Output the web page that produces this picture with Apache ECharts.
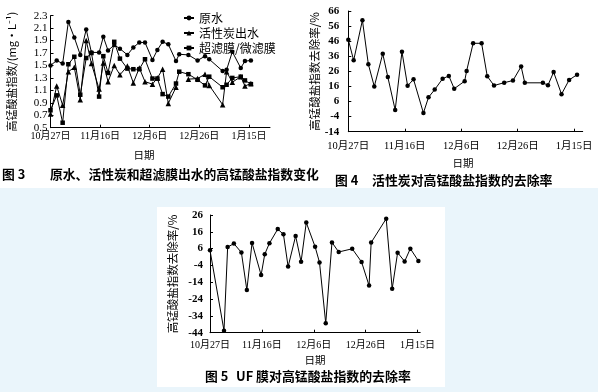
<!DOCTYPE html>
<html><head><meta charset="utf-8">
<script src="https://cdn.jsdelivr.net/npm/echarts@6/dist/echarts.min.js"></script>
<style>html,body{margin:0;padding:0;background:#eaf5fb;}#c{width:598px;height:392px;}</style>
</head><body><div id="c"></div>
<script>
// ---- shared x ticks (days after 10月27日) ----
const xTickDays = [0, 20, 40, 60, 80];
const xTickLabels = ['10月27日', '11月16日', '12月6日', '12月26日', '1月15日'];

// ---- Figure 3 ----
const fig3Days = [0, 2.5, 4.9, 7.2, 9.6, 12, 14.4, 16.5, 19.6, 21.3, 23.2, 25.7, 28, 31, 33.4, 35.8, 38.1, 41.1, 43.1, 45.2, 47.5, 50.6, 51.9, 55.6, 59.3, 62.3, 64, 69.4, 71, 73.3, 76.7, 78.4, 80.8];
const fig3Raw = [1.50, 1.58, 1.53, 2.20, 1.95, 1.67, 2.08, 1.71, 1.71, 1.96, 1.74, 1.83, 1.77, 1.67, 1.79, 1.87, 1.87, 1.59, 1.75, 1.88, 1.84, 1.57, 1.68, 1.67, 1.58, 1.65, 1.60, 1.41, 1.43, 1.72, 1.46, 1.57, 1.58];
const fig3Tri = [0.72, 1.17, 0.86, 1.40, 1.47, 0.95, 1.90, 1.53, 1.12, 1.54, 1.24, 1.50, 1.35, 1.49, 1.22, 1.46, 1.24, 1.20, 1.30, 1.44, 0.89, 1.15, null, 1.28, 1.29, 1.36, 1.18, 0.87, 1.40, 1.23, 1.32, 1.17, 1.21];
const fig3Sq = [0.78, 1.02, 0.58, 1.52, 1.64, 1.03, 1.62, 1.70, 1.00, 1.65, 1.38, 1.88, 1.61, 1.45, 1.44, 1.44, 1.60, 1.29, 1.29, 1.04, 1.00, 1.21, 1.40, 1.36, 1.27, 1.18, 1.32, 1.15, 1.19, 1.30, 1.32, 1.26, 1.20];
const fig3YTicks = [0.5, 0.7, 0.9, 1.1, 1.3, 1.5, 1.7, 1.9, 2.1, 2.3];
const fig3Names = ['原水', '活性炭出水', '超滤膜/微滤膜'];

// ---- Figure 4 ----
const fig4Days = [0, 1.9, 5, 7.1, 9.2, 12.2, 14, 16.6, 19, 21, 23.1, 26.6, 28.4, 30.6, 33.4, 35.6, 37.5, 41.2, 41.9, 44.2, 47.2, 49.2, 51.6, 55.2, 58.3, 61.2, 62.5, 68.9, 70.7, 72.7, 75.5, 78.2, 81];
const fig4Rate = [47, 33.3, 59.9, 30.7, 16, 37.7, 22.2, 0.4, 39, 16.4, 20.7, -1.6, 8.8, 13.9, 21.1, 23, 14.5, 19.5, 26.3, 44.6, 44.6, 22.8, 16.6, 18.5, 19.9, 29.2, 18.4, 18.4, 16.8, 25.5, 10.9, 20.3, 23.8];
const fig4YTicks = [-14, -4, 6, 16, 26, 36, 46, 56, 66];

// ---- Figure 5 ----
const fig5Days = [0, 5.4, 6.8, 9.2, 12.1, 14.2, 16.2, 19.7, 21.1, 22.9, 26.1, 28.3, 30.1, 33, 35.1, 37.1, 40.5, 42.2, 44.6, 47, 49.6, 54.8, 58.4, 61.3, 62.1, 67.9, 70.2, 72.3, 75, 77.2, 80.3];
const fig5Rate = [5, -42.8, 6.9, 9, 3.7, -18.6, 9.4, -9.7, 2.7, 9.2, 17.6, 14.5, -4.7, 13.5, -1.8, 21.5, 7.1, -2.2, -38.4, 9.7, 4.0, 5.9, -1.9, -16, 9.6, 23.8, -17.9, 3.6, -1.6, 6, -1.3];
const fig5YTicks = [-44, -34, -24, -14, -4, 6, 16, 26];

const pairs = (xs, ys) => xs.map((x, i) => [x, ys[i]]);
const SERIF = "'Liberation Serif', 'Noto Sans CJK SC', serif";
const CJK = "'Noto Sans CJK SC', sans-serif";

function xAxisCfg(grid, max, margin, fs) {
  return {
    type: 'value', gridIndex: grid, min: 0, max: max,
    axisLine: { show: true, onZero: false, lineStyle: { color: '#000', width: 1 } },
    axisTick: { show: true, inside: true, length: 3, customValues: xTickDays, lineStyle: { color: '#000' } },
    axisLabel: { customValues: xTickDays, margin: margin, fontSize: fs, color: '#000', fontFamily: SERIF,
      formatter: v => xTickLabels[xTickDays.indexOf(v)] || '' },
    splitLine: { show: false }
  };
}
function yAxisCfg(grid, min, max, ticks, fmt, name, gap, nameFs, bold, margin) {
  return {
    type: 'value', gridIndex: grid, min: min, max: max,
    axisLine: { show: true, onZero: false, lineStyle: { color: '#000', width: 1 } },
    axisTick: { show: true, inside: true, length: 3, customValues: ticks, lineStyle: { color: '#000' } },
    axisLabel: { customValues: ticks, margin: margin, fontSize: 11, color: '#000', fontFamily: SERIF,
      fontWeight: bold ? 'bold' : 'normal', formatter: fmt },
    splitLine: { show: false },
    name: name, nameLocation: 'middle', nameRotate: 90, nameGap: gap,
    nameTextStyle: { fontSize: nameFs, color: '#000', fontFamily: CJK }
  };
}
function lineSeries(name, xi, data, symbol, size) {
  return {
    name: name, type: 'line', xAxisIndex: xi, yAxisIndex: xi, data: data,
    symbol: symbol, symbolSize: size, showSymbol: true, connectNulls: false,
    lineStyle: { color: '#000', width: 1 }, itemStyle: { color: '#000' },
    animation: false, silent: true
  };
}

const chart = echarts.init(document.getElementById('c'), null, { renderer: 'canvas' });
chart.setOption({
  backgroundColor: '#eaf5fb',
  animation: false,
  grid: [
    { left: 50.5, top: 15.7, width: 219.5, height: 112 },
    { left: 348.3, top: 11, width: 234.4, height: 120.7 },
    { left: 210, top: 215, width: 210.2, height: 117.7 }
  ],
  xAxis: [
    xAxisCfg(0, 88.5, 4, 10),
    xAxisCfg(1, 83, 9, 10.5),
    xAxisCfg(2, 81, 8, 10)
  ],
  yAxis: [
    yAxisCfg(0, 0.5, 2.3, fig3YTicks, v => v.toFixed(1), '高锰酸盐指数/(mg·L⁻¹)', 33, 11, false, 3),
    yAxisCfg(1, -14, 66, fig4YTicks, v => String(v), '高锰酸盐指数去除率/%', 26, 11.5, true, 9),
    yAxisCfg(2, -44, 26, fig5YTicks, v => String(v), '高锰酸盐指数去除率/%', 32, 11.5, true, 7)
  ],
  legend: {
    data: fig3Names, orient: 'vertical', left: 178, top: 7, itemWidth: 10, itemHeight: 6, itemGap: 3,
    textStyle: { fontSize: 12, color: '#000', fontFamily: CJK, lineHeight: 12 }
  },
  series: [
    lineSeries(fig3Names[0], 0, pairs(fig3Days, fig3Raw), 'circle', 4.5),
    lineSeries(fig3Names[1], 0, pairs(fig3Days, fig3Tri), 'triangle', 5.5),
    lineSeries(fig3Names[2], 0, pairs(fig3Days, fig3Sq), 'rect', 4.5),
    lineSeries('图4', 1, pairs(fig4Days, fig4Rate), 'circle', 4.5),
    lineSeries('图5', 2, pairs(fig5Days, fig5Rate), 'circle', 4.5)
  ],
  graphic: [
    { type: 'rect', z: -100, shape: { x: 0, y: 0, width: 598, height: 188 }, style: { fill: '#fff' } },
    { type: 'rect', z: -100, shape: { x: 157, y: 207, width: 288, height: 180 }, style: { fill: '#fff' } },
    { type: 'text', x: 2, y: 174, style: { text: '图 3', fontSize: 12.8, fontWeight: 'bold', fontFamily: CJK, fill: '#000', verticalAlign: 'middle' } },
    { type: 'text', x: 50, y: 174, style: { text: '原水、活性炭和超滤膜出水的高锰酸盐指数变化', fontSize: 12.8, fontWeight: 'bold', fontFamily: CJK, fill: '#000', verticalAlign: 'middle' } },
    { type: 'text', x: 335, y: 180, style: { text: '图 4', fontSize: 12.8, fontWeight: 'bold', fontFamily: CJK, fill: '#000', verticalAlign: 'middle' } },
    { type: 'text', x: 372, y: 180, style: { text: '活性炭对高锰酸盐指数的去除率', fontSize: 12.9, fontWeight: 'bold', fontFamily: CJK, fill: '#000', verticalAlign: 'middle' } },
    { type: 'text', x: 205, y: 376, style: { text: '图 5', fontSize: 12.8, fontWeight: 'bold', fontFamily: CJK, fill: '#000', verticalAlign: 'middle' } },
    { type: 'text', x: 236, y: 376, style: { text: 'UF 膜对高锰酸盐指数的去除率', fontSize: 12.9, fontWeight: 'bold', fontFamily: CJK, fill: '#000', verticalAlign: 'middle' } },
    { type: 'text', x: 144, y: 155, style: { text: '日期', fontSize: 10.5, fontFamily: CJK, fill: '#000', align: 'center', verticalAlign: 'middle' } },
    { type: 'text', x: 463, y: 163, style: { text: '日期', fontSize: 10.5, fontFamily: CJK, fill: '#000', align: 'center', verticalAlign: 'middle' } },
    { type: 'text', x: 315, y: 360, style: { text: '日期', fontSize: 10.5, fontFamily: CJK, fill: '#000', align: 'center', verticalAlign: 'middle' } }
  ]
});
</script></body></html>
